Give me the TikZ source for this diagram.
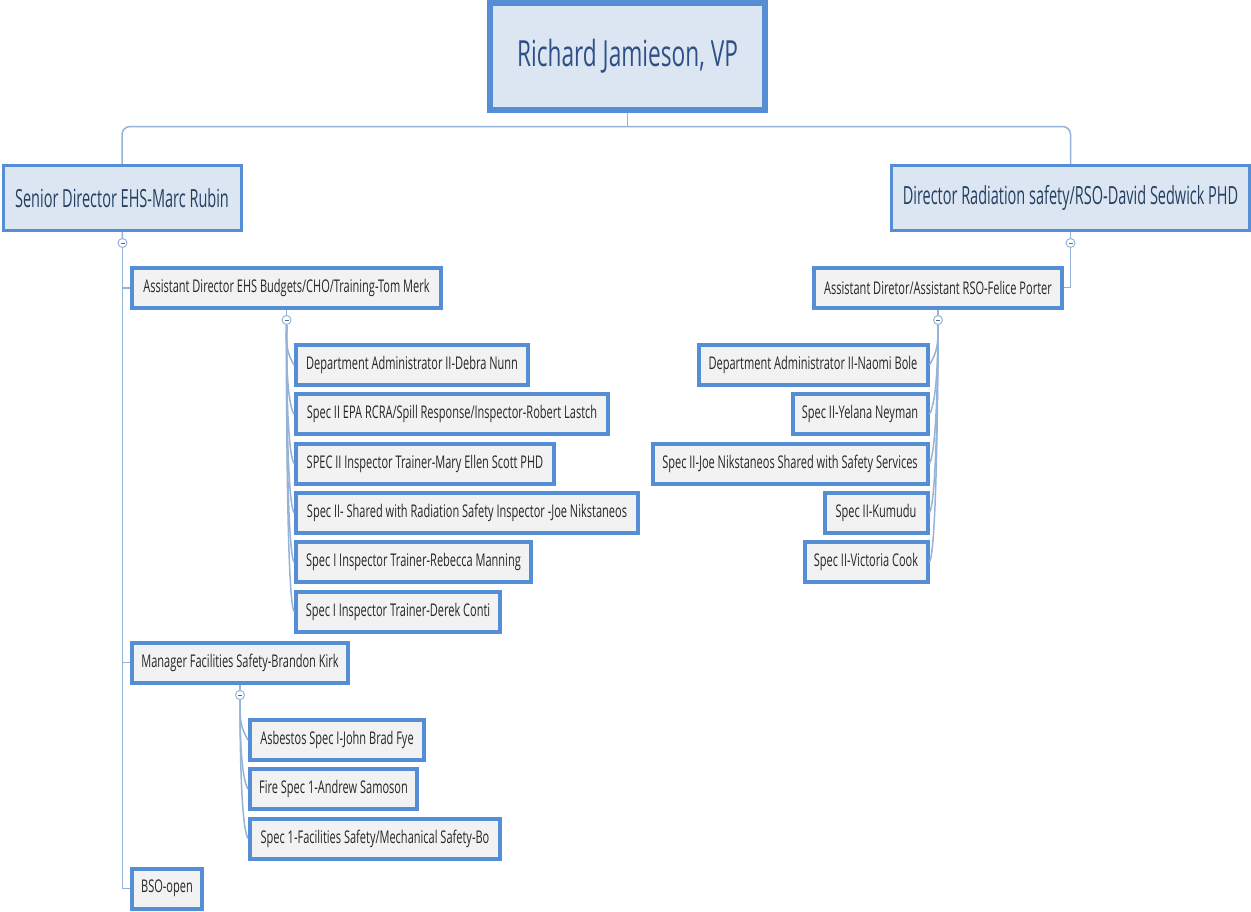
\documentclass[tikz,border=0pt]{standalone}
\usepackage{fontspec}
\setmainfont{Open Sans}[FakeStretch=0.63]
\newfontfamily\dirfont{Open Sans}[FakeStretch=0.58]
\usetikzlibrary{positioning}
\definecolor{boxline}{HTML}{558ED5}
\definecolor{topfill}{HTML}{DCE6F2}
\definecolor{stafffill}{HTML}{F2F2F2}
\definecolor{linkline}{HTML}{95B3D7}
\definecolor{toptext}{HTML}{2F5087}
\definecolor{dirtext}{HTML}{243F60}
\definecolor{stafftext}{HTML}{262626}

\begin{document}
\begin{tikzpicture}[x=0.5pt,y=-0.5pt]
  \tikzstyle{vp}=[rectangle,draw=boxline,line width=3pt,fill=topfill,text=toptext,font=\fontsize{18}{20}\selectfont,minimum width=137.5pt,minimum height=53.5pt]
  \tikzstyle{director}=[rectangle,draw=boxline,line width=1.5pt,fill=topfill,text=dirtext,font=\dirfont\fontsize{12.5}{14}\selectfont,minimum height=32.5pt]
  \tikzstyle{staff}=[rectangle,draw=boxline,line width=2pt,fill=stafffill,text=stafftext,font=\fontsize{8.75}{10}\selectfont,minimum height=20pt,inner xsep=3pt]
  \tikzstyle{toggle}=[circle,draw=linkline,fill=white,line width=.5pt,minimum size=4.5pt,inner sep=0pt,
    path picture={\draw[linkline!60!black,line width=.4pt] ([xshift=-1pt]path picture bounding box.center) -- ([xshift=1pt]path picture bounding box.center);}]
  \tikzstyle{link}=[draw=linkline,line width=.75pt]
  \tikzstyle{fanl}=[to path={(\tikztostart.west) .. controls +(-8,-14) and +(0,20) .. (\tikztotarget.south)}]
  \tikzstyle{fanr}=[to path={(\tikztostart.east) .. controls +(8,-14) and +(0,20) .. (\tikztotarget.south)}]

  \useasboundingbox (0,0) rectangle (1251,911);

  \node [vp] (vp) at (627.5,56.5) {Richard Jamieson, VP};

  \node [director,minimum width=119pt] (ehs) at (122,198) {Senior Director EHS-Marc Rubin};
  \node [director,minimum width=179pt] (rad) at (1070.5,198) {Director Radiation safety/RSO-David Sedwick PHD};

  \coordinate (bar) at (627.5,126.5);
  \draw [link] (vp.south) -- (bar);
  \draw [link,rounded corners=4pt] (ehs.north) |- (bar) -| (rad.north);

  % EHS side
  \node [toggle] (t1) at (122.5,243) {} edge [link] (ehs);

  \node [staff,minimum width=154.5pt,anchor=west] (budget) at (130,288) {Assistant Director EHS Budgets/CHO/Training-Tom Merk};
  \node [staff,minimum width=108pt,anchor=west] (fac) at (130,662.5) {Manager Facilities Safety-Brandon Kirk};
  \node [staff,minimum width=35pt,anchor=west] (bso) at (130,888.5) {BSO-open};

  \draw [link] (t1) |- (budget.west);
  \draw [link] (t1) |- (fac.west);
  \draw [link] (t1) |- (bso.west);

  \node [toggle] (t2) at (286.5,320) {} edge [link] (budget);

  \node [staff,minimum width=116pt,anchor=west] (e1) at (294,365) {Department Administrator II-Debra Nunn}
  edge [link,fanl] (t2);

  \node [staff,minimum width=156pt] (e2) [below=2.65pt of e1.south west,anchor=north west] {Spec II EPA RCRA/Spill Response/Inspector-Robert Lastch}
  edge [link,fanl] (t2);

  \node [staff,minimum width=129pt] (e3) [below=2.65pt of e2.south west,anchor=north west] {SPEC II Inspector Trainer-Mary Ellen Scott PHD}
  edge [link,fanl] (t2);

  \node [staff,minimum width=171pt] (e4) [below=2.65pt of e3.south west,anchor=north west] {Spec II- Shared with Radiation Safety Inspector -Joe Nikstaneos}
  edge [link,fanl] (t2);

  \node [staff,minimum width=117.5pt] (e5) [below=2.65pt of e4.south west,anchor=north west] {Spec I Inspector Trainer-Rebecca Manning}
  edge [link,fanl] (t2);

  \node [staff,minimum width=102pt] (e6) [below=2.65pt of e5.south west,anchor=north west] {Spec I Inspector Trainer-Derek Conti}
  edge [link,fanl] (t2);

  \node [toggle] (t3) at (240,695) {} edge [link] (fac);

  \node [staff,minimum width=87pt,anchor=west] (f1) at (248,740) {Asbestos Spec I-John Brad Fye}
  edge [link,fanl] (t3);

  \node [staff,minimum width=83.5pt] (f2) [below=2.65pt of f1.south west,anchor=north west] {Fire Spec 1-Andrew Samoson}
  edge [link,fanl] (t3);

  \node [staff,minimum width=125pt] (f3) [below=2.65pt of f2.south west,anchor=north west] {Spec 1-Facilities Safety/Mechanical Safety-Bo}
  edge [link,fanl] (t3);

  % radiation side
  \node [toggle] (t4) at (1070.5,243) {} edge [link] (rad);

  \node [staff,minimum width=124pt] (rso) at (938,287.5) {Assistant Diretor/Assistant RSO-Felice Porter};
  \draw [link] (t4) |- (rso.east);

  \node [toggle] (t5) at (938,320) {} edge [link] (rso);

  \node [staff,minimum width=114.5pt,anchor=east] (r1) at (929.5,365) {Department Administrator II-Naomi Bole}
  edge [link,fanr] (t5);

  \node [staff,minimum width=67.5pt] (r2) [below=2.65pt of r1.south east,anchor=north east] {Spec II-Yelana Neyman}
  edge [link,fanr] (t5);

  \node [staff,minimum width=137.5pt] (r3) [below=2.65pt of r2.south east,anchor=north east] {Spec II-Joe Nikstaneos Shared with Safety Services}
  edge [link,fanr] (t5);

  \node [staff,minimum width=51.5pt] (r4) [below=2.65pt of r3.south east,anchor=north east] {Spec II-Kumudu}
  edge [link,fanr] (t5);

  \node [staff,minimum width=61.5pt] (r5) [below=2.65pt of r4.south east,anchor=north east] {Spec II-Victoria Cook}
  edge [link,fanr] (t5);
\end{tikzpicture}
\end{document}
